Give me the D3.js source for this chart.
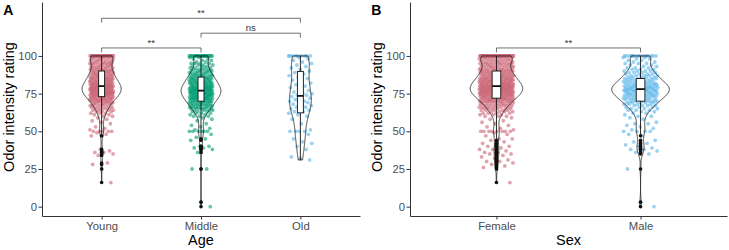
<!DOCTYPE html>
<html>
<head>
<meta charset="utf-8">
<script src="https://cdn.jsdelivr.net/npm/d3@7"></script>
<style>
    body { margin: 0; background: #fff; }
    svg text { font-family: "Liberation Sans", Arial, Helvetica, sans-serif; }
</style>
</head>
<body>
<div id="chart"></div>
<script>

// ---- data ----
// ratings are 0-100; dense parts are stored as counts per integer rating from 60 to 100
const denseStart = 60;
const ratingTicks = [0, 25, 50, 75, 100];

const ageGroups = ["Young", "Middle", "Old"];
const sexGroups = ["Female", "Male"];

const youngCounts = [2, 2, 3, 3, 4, 4, 4, 5, 5, 6,
    9, 8, 9, 10, 10, 14, 13, 14, 14, 13,
    15, 11, 11, 10, 10, 10, 8, 8, 7, 7,
    9, 6, 6, 5, 5, 7, 5, 5, 5, 5,
    36];
const youngLow = [16, 25, 28, 29, 34, 35, 36, 36, 37, 38, 47, 48, 49, 50, 50, 50, 50, 50,
    51, 52, 53, 55, 56, 57, 58, 59];

const middleCounts = [3, 2, 3, 3, 4, 6, 6, 6, 7, 6,
    9, 8, 10, 9, 10, 12, 11, 12, 12, 11,
    10, 8, 9, 9, 8, 8, 7, 6, 6, 5,
    6, 4, 4, 3, 3, 4, 2, 2, 2, 2,
    22];
const middleLow = [0, 3, 25, 25, 36, 38, 39, 39, 40, 40, 44, 45, 46, 48, 50, 50, 50, 50, 50, 50,
    51, 52, 53, 54, 55, 57, 58, 59];

const oldRatings = [100, 100, 100, 100, 100, 100, 100, 100, 100,
    99, 98, 97, 96, 95, 94, 93, 92, 91, 90, 89, 88, 87, 86, 85, 84, 83, 82, 81,
    80, 79, 78, 77, 76, 75, 75, 74, 74, 73, 72, 72, 71, 70, 70, 70, 69, 68, 68, 67,
    66, 66, 65, 64, 64, 63, 63, 62, 61, 60,
    58, 55, 51, 50, 50, 50, 50, 48, 45, 43, 42, 40, 38, 33, 32, 31];

const femaleCounts = [3, 3, 4, 4, 5, 6, 6, 7, 7, 8,
    12, 11, 12, 13, 13, 18, 17, 18, 18, 17,
    20, 15, 15, 14, 14, 13, 11, 11, 10, 9,
    12, 8, 8, 7, 7, 9, 7, 7, 7, 7,
    50];
const femaleLow = [16, 25, 26, 27, 28, 29, 30, 30, 31, 32, 33, 34, 35, 35, 36, 36, 37, 38, 38, 39,
    40, 40, 41, 42, 43, 44, 45, 45, 47, 48, 49, 50, 50, 50, 50, 50, 50, 50, 50,
    51, 52, 53, 54, 55, 56, 57, 58, 59];

const maleCounts = [2, 1, 2, 2, 3, 3, 3, 4, 4, 5,
    6, 6, 6, 7, 7, 8, 8, 10, 10, 9,
    9, 7, 7, 6, 6, 6, 5, 5, 4, 4,
    4, 3, 3, 2, 2, 3, 2, 2, 2, 2,
    14];
const maleLow = [0, 3, 25, 35, 36, 37, 38, 38, 39, 40, 41, 42, 43, 44, 47, 48, 50, 50, 50, 50,
    51, 52, 53, 54, 55, 55, 56, 58, 59];

// significance brackets: [from, to, rating height, label]
const ageTests = [["Young", "Middle", 105.3, "**"], ["Middle", "Old", 115.1, "ns"], ["Young", "Old", 125, "**"]];
const sexTests = [["Female", "Male", 105.3, "**"]];

const colors = { Young: "#CC6677", Middle: "#009E73", Old: "#56B4E9", Female: "#CC6677", Male: "#56B4E9" };

// turn counts into one rating per respondent
function expand(counts, low) {
    let vals = low.slice();
    counts.forEach((c, i) => {
        for (let k = 0; k < c; k++) vals.push(denseStart + i);
    });
    return vals.sort(d3.ascending);
}


class ViolinPanel {

    constructor(_svg, _config) {
        this.svg = _svg;
        this.config = _config;
        this.initVis();
    }

    initVis() {
        let vis = this;
        let c = vis.config;

        vis.top = 2;
        vis.bottom = 216;

        vis.g = vis.svg.append("g");

        vis.x = d3.scalePoint()
            .domain(c.groups.map(d => d.name))
            .range([c.left, c.right])
            .padding(0.6);
        vis.step = vis.x.step();

        vis.y = d3.scaleLinear()
            .domain([-6.2, 135.8])
            .range([vis.bottom, vis.top]);

        // axes
        let yAxis = d3.axisLeft(vis.y).tickValues(ratingTicks).tickSize(3.5).tickSizeOuter(0).tickPadding(1.5);
        let xAxis = d3.axisBottom(vis.x).tickSize(3.5).tickSizeOuter(0);

        let yg = vis.g.append("g")
            .attr("transform", "translate(" + c.left + ",0)")
            .call(yAxis);
        let xg = vis.g.append("g")
            .attr("transform", "translate(0," + vis.bottom + ")")
            .call(xAxis);

        [yg, xg].forEach(a => {
            a.select(".domain").attr("stroke", "#333").attr("stroke-width", 1);
            a.selectAll(".tick line").attr("stroke", "#333").attr("stroke-width", 1);
            a.selectAll(".tick text")
                .attr("fill", "#4d4d4d")
                .style("font-size", "11.3px");
        });
        xg.selectAll(".tick text").attr("dy", null).attr("y", 14);

        // titles
        vis.g.append("text")
            .attr("transform", "translate(" + (c.left - 28.5) + ",107) rotate(-90)")
            .attr("text-anchor", "middle")
            .style("font-size", "14.5px")
            .text("Odor intensity rating");

        vis.g.append("text")
            .attr("x", (c.left + c.right) / 2)
            .attr("y", 245)
            .attr("text-anchor", "middle")
            .style("font-size", "14.5px")
            .text(c.xTitle);

        vis.g.append("text")
            .attr("x", c.left - 38.7)
            .attr("y", 15)
            .style("font-size", "14px")
            .style("font-weight", "bold")
            .text(c.tag);

        vis.wrangleData();
    }

    wrangleData() {
        let vis = this;

        vis.groups = vis.config.groups.map(gr => {
            let v = gr.values;
            let q1 = d3.quantile(v, 0.25);
            let med = d3.quantile(v, 0.5);
            let q3 = d3.quantile(v, 0.75);
            let iqr = q3 - q1;
            let lo = q1 - 1.5 * iqr, hi = q3 + 1.5 * iqr;
            let inside = v.filter(d => d >= lo && d <= hi);

            // gaussian kernel density, bw.nrd0 like R
            let bw = 0.9 * Math.min(d3.deviation(v), iqr / 1.34) * Math.pow(v.length, -0.2);
            let ext = d3.extent(v);
            let grid = d3.range(512).map(i => ext[0] + (ext[1] - ext[0]) * i / 511);
            let density = grid.map(t => [t,
                d3.mean(v, d => Math.exp(-0.5 * ((t - d) / bw) ** 2)) / (bw * Math.sqrt(2 * Math.PI))]);

            return {
                name: gr.name,
                values: v,
                q1: q1, med: med, q3: q3,
                whiskLo: d3.min(inside), whiskHi: d3.max(inside),
                outliers: v.filter(d => d < lo || d > hi),
                density: density
            };
        });

        vis.maxDens = d3.max(vis.groups, g => d3.max(g.density, d => d[1]));

        vis.updateVis();
    }

    updateVis() {
        let vis = this;
        let c = vis.config;
        let jitterW = 0.12 * vis.step;
        let violinHalf = 0.2 * vis.step;
        let boxW = 0.06 * vis.step;

        vis.groups.forEach(gr => {
            let cx = vis.x(gr.name);

            // jittered points
            vis.g.append("g").selectAll("circle")
                .data(gr.values)
                .enter()
                .append("circle")
                .attr("cx", (d, i) => cx + (((i + 1) * 0.6180339887 + 0.27) % 1 - 0.5) * 2 * jitterW)
                .attr("cy", d => vis.y(d))
                .attr("r", 1.9)
                .attr("fill", colors[gr.name])
                .attr("fill-opacity", 0.6);

            // violin outline
            let area = d3.area()
                .x0(d => cx - violinHalf * d[1] / vis.maxDens)
                .x1(d => cx + violinHalf * d[1] / vis.maxDens)
                .y(d => vis.y(d[0]));

            vis.g.append("path")
                .datum(gr.density)
                .attr("d", area)
                .attr("fill", "none")
                .attr("stroke", "#111")
                .attr("stroke-width", 0.8);

            // boxplot
            vis.g.append("line")
                .attr("x1", cx).attr("x2", cx)
                .attr("y1", vis.y(gr.whiskHi)).attr("y2", vis.y(gr.q3))
                .attr("stroke", "#111").attr("stroke-width", 0.9);
            vis.g.append("line")
                .attr("x1", cx).attr("x2", cx)
                .attr("y1", vis.y(gr.q1)).attr("y2", vis.y(gr.whiskLo))
                .attr("stroke", "#111").attr("stroke-width", 0.9);

            vis.g.append("rect")
                .attr("x", cx - boxW / 2)
                .attr("width", boxW)
                .attr("y", vis.y(gr.q3))
                .attr("height", vis.y(gr.q1) - vis.y(gr.q3))
                .attr("fill", "#fff")
                .attr("stroke", "#111")
                .attr("stroke-width", 0.9);

            vis.g.append("line")
                .attr("x1", cx - boxW / 2).attr("x2", cx + boxW / 2)
                .attr("y1", vis.y(gr.med)).attr("y2", vis.y(gr.med))
                .attr("stroke", "#111").attr("stroke-width", 1.8);

            vis.g.append("g").selectAll("circle")
                .data(gr.outliers)
                .enter()
                .append("circle")
                .attr("cx", cx)
                .attr("cy", d => vis.y(d))
                .attr("r", 1.8)
                .attr("fill", "#111");
        });

        // significance brackets
        c.tests.forEach(t => {
            let x1 = vis.x(t[0]), x2 = vis.x(t[1]), yy = vis.y(t[2]);
            vis.g.append("path")
                .attr("d", "M" + x1 + "," + (yy + 4.4) + "V" + yy + "H" + x2 + "V" + (yy + 4.4))
                .attr("fill", "none")
                .attr("stroke", "#333")
                .attr("stroke-width", 0.7);
            vis.g.append("text")
                .attr("x", (x1 + x2) / 2)
                .attr("y", yy - 2)
                .attr("text-anchor", "middle")
                .attr("fill", "#333")
                .style("font-size", "9.5px")
                .text(t[3]);
        });
    }
}

let svg = d3.select("#chart").append("svg")
    .attr("width", 729)
    .attr("height", 250);

new ViolinPanel(svg, {
    tag: "A", xTitle: "Age", left: 42, right: 360, tests: ageTests,
    groups: [
        { name: ageGroups[0], values: expand(youngCounts, youngLow) },
        { name: ageGroups[1], values: expand(middleCounts, middleLow) },
        { name: ageGroups[2], values: expand([], oldRatings) }
    ]
});

new ViolinPanel(svg, {
    tag: "B", xTitle: "Sex", left: 410, right: 727, tests: sexTests,
    groups: [
        { name: sexGroups[0], values: expand(femaleCounts, femaleLow) },
        { name: sexGroups[1], values: expand(maleCounts, maleLow) }
    ]
});

</script>
</body>
</html>
